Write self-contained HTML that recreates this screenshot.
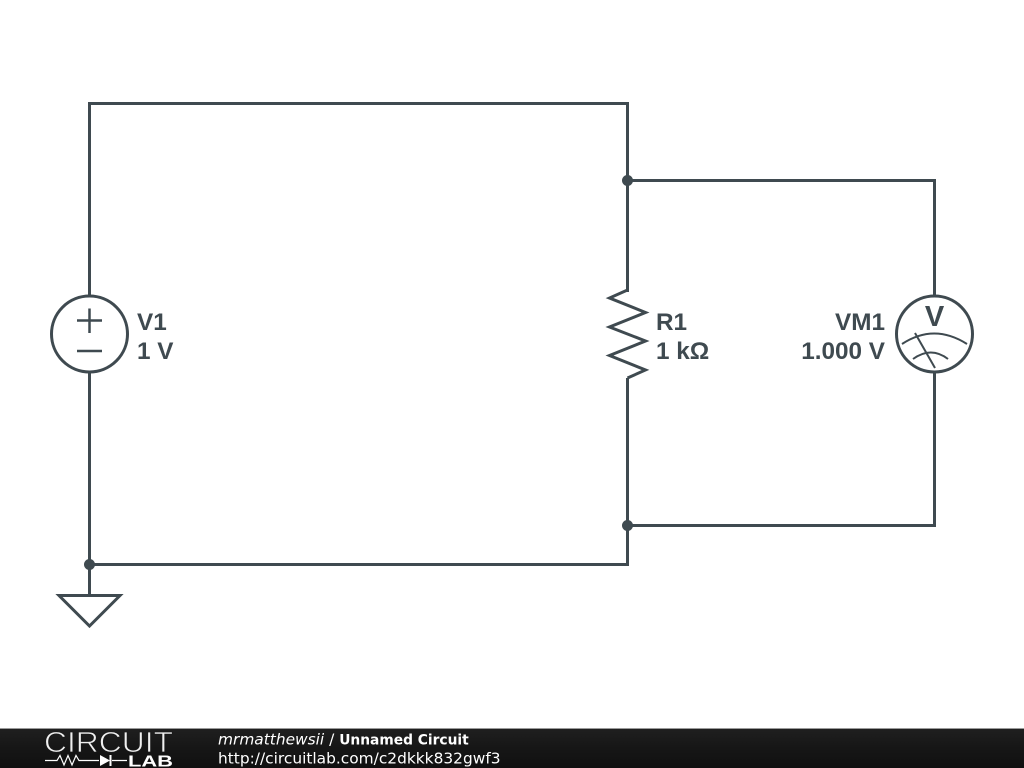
<!DOCTYPE html>
<html>
<head>
<meta charset="utf-8">
<style>
html,body{margin:0;padding:0;background:#fff;width:1024px;height:768px;overflow:hidden}
svg{display:block}
.lbl{font-family:"Liberation Sans",sans-serif;font-weight:700;font-size:24.3px;fill:#3f4a50}
.ft{font-family:"DejaVu Sans",sans-serif;font-size:15.4px;fill:#fff}
</style>
</head>
<body>
<svg width="1024" height="768" viewBox="0 0 1024 768" xmlns="http://www.w3.org/2000/svg">
<defs>
<linearGradient id="bar" x1="0" y1="0" x2="0" y2="1">
<stop offset="0" stop-color="#1f1f1f"/>
<stop offset="0.5" stop-color="#161616"/>
<stop offset="1" stop-color="#101010"/>
</linearGradient>
</defs>
<rect width="1024" height="768" fill="#fff"/>
<g fill="none" stroke="#3f4a50" stroke-width="3" stroke-linejoin="miter" stroke-linecap="butt">
<!-- wires -->
<path d="M89.5 296V103.5H627.5V292"/>
<path d="M627.5 180.5H934.5V296"/>
<path d="M89.5 372V564.5H627.5V378"/>
<path d="M627.5 525.5H934.5V372"/>
<path d="M89.5 564.5V595"/>
<!-- V1 -->
<circle cx="89.5" cy="334" r="38"/>
<path d="M77 320.5H102M89.5 308.5V333M77 351H102" stroke-width="2.5"/>
<!-- R1 -->
<path d="M627.5 290L609.5 298L645.5 312.5L609.5 327L645.5 341L609.5 355.5L645.5 370L627.5 378"/>
<!-- ground -->
<path d="M59 595.5H120L89.5 626Z"/>
<!-- VM1 -->
<circle cx="934.5" cy="334" r="38"/>
<path d="M902 344Q934 323 967 344" stroke-width="2"/>
<path d="M913 359Q931 346 948 359" stroke-width="2"/>
<path d="M915 333L935 368" stroke-width="2"/>
</g>
<g fill="#3f4a50">
<circle cx="627.5" cy="180.5" r="5.5"/>
<circle cx="627.5" cy="525.5" r="5.5"/>
<circle cx="89.5" cy="564.5" r="5.5"/>
</g>
<text class="lbl" x="137" y="330">V1</text>
<text class="lbl" x="137" y="359">1 V</text>
<text class="lbl" x="656" y="330">R1</text>
<text class="lbl" x="656" y="359">1 kΩ</text>
<text class="lbl" x="885" y="330" text-anchor="end">VM1</text>
<text class="lbl" x="885" y="359" text-anchor="end">1.000 V</text>
<text class="lbl" x="934.5" y="326" text-anchor="middle" style="font-size:29px">V</text>
<!-- footer -->
<rect x="0" y="728" width="1024" height="1" fill="#9a9a9a"/>
<rect x="0" y="729" width="1024" height="39" fill="url(#bar)"/>
<text x="44" y="752" textLength="129" lengthAdjust="spacingAndGlyphs" style="font-family:'Liberation Sans',sans-serif;font-size:28.5px;fill:#f0f0f0;stroke:#1a1a1a;stroke-width:0.8">CIRCUIT</text>
<g fill="none" stroke="#fff" stroke-width="1.2">
<path d="M45 760.5H57L60 755.5L64 765L68 755.5L72 765L76 755.5L79 760.5H99M112 760.5H127"/>
<path d="M110.5 755V766" stroke-width="2"/>
</g>
<path d="M100 755V766L110 760.5Z" fill="#fff"/>
<text x="128" y="766.5" textLength="45" lengthAdjust="spacingAndGlyphs" style="font-family:'Liberation Sans',sans-serif;font-weight:700;font-size:16px;fill:#fff">LAB</text>
<text class="ft" x="218" y="744.5"><tspan font-style="italic">mrmatthewsii</tspan> / <tspan font-weight="700" style="font-size:13.8px">Unnamed Circuit</tspan></text>
<text class="ft" x="218" y="763.5">http://circuitlab.com/c2dkkk832gwf3</text>
</svg>
</body>
</html>
